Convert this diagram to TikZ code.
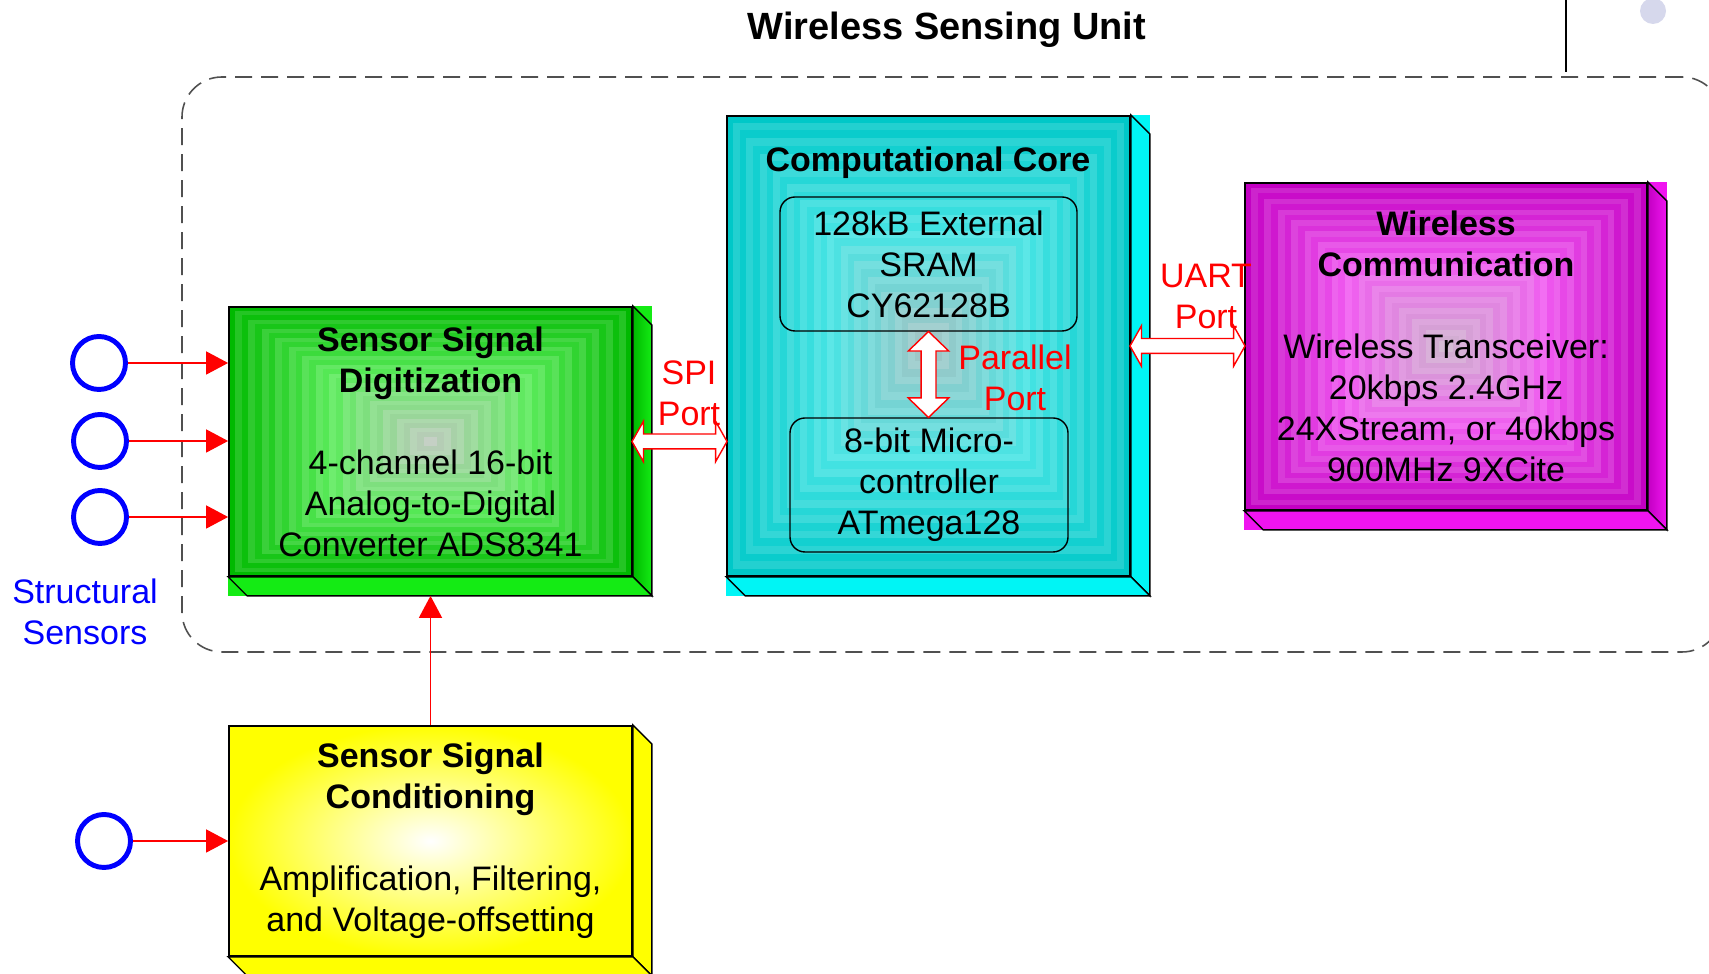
\documentclass[tikz,border=0pt]{standalone}
\usepackage{fontspec}
\setmainfont{Liberation Sans}
\usetikzlibrary{arrows.meta, shapes.arrows, positioning, calc, backgrounds}
\usepackage{xcolor}
\definecolor{greenedge}{RGB}{0,185,0}
\definecolor{greenmid}{RGB}{90,235,90}
\definecolor{greencenter}{RGB}{195,200,195}
\definecolor{greenside}{RGB}{20,235,20}
\definecolor{cyanedge}{RGB}{0,200,200}
\definecolor{cyanmid}{RGB}{70,228,228}
\definecolor{cyancenter}{RGB}{170,195,195}
\definecolor{cyanside}{RGB}{0,245,245}
\definecolor{magedge}{RGB}{195,0,195}
\definecolor{magmid}{RGB}{240,90,240}
\definecolor{magcenter}{RGB}{205,185,205}
\definecolor{magside}{RGB}{240,20,240}
\definecolor{sensorblue}{RGB}{0,0,255}
\definecolor{portred}{RGB}{255,0,0}
\definecolor{unitgray}{RGB}{80,80,80}
\definecolor{dotlavender}{RGB}{214,216,236}

\newcommand{\dpth}{0.19}
% stepped rectangular gradient on the face of a block (odd steps a bit lighter)
\newcommand{\bevelshade}[4]{%
  \foreach \k in {0,...,29}{%
    \pgfmathtruncatemacro\p{100-mod(\k,15)*100/15}%
    \ifnum\k<15 \colorlet{bevelcol}{#2!\p!#3}\else\colorlet{bevelcol}{#3!\p!#4}\fi
    \ifodd\k \colorlet{bevelcol}{bevelcol!88!white}\fi
    \pgfmathsetmacro\t{\k/30}%
    \fill[bevelcol] ($(#1.north west)!\t!(#1.center)$) rectangle ($(#1.south east)!\t!(#1.center)$);
  }}
% right and bottom faces of a block
\newcommand{\boxsides}[3]{%
  \draw[faceline, #2] (#1.north east) -- ++(\dpth,-\dpth) -- ($(#1.south east)+(\dpth,-\dpth)$) -- (#1.south east) -- cycle;
  \draw[faceline, #3] (#1.south west) -- ++(\dpth,-\dpth) -- ($(#1.south east)+(\dpth,-\dpth)$) -- (#1.south east) -- cycle;}

\begin{document}
\begin{tikzpicture}[
  blockbox/.style={draw, line width=0.5pt, inner sep=0pt, align=center, font=\fontsize{9.67}{11.66}\selectfont},
  innerbox/.style={draw, line width=0.4pt, rounded corners=0.15cm, inner sep=0pt, align=center, minimum height=1.34cm, font=\fontsize{9.67}{11.66}\selectfont},
  faceline/.style={draw=black, line width=0.4pt},
  sensor/.style={circle, draw=sensorblue, line width=1.4pt, minimum size=0.53cm, inner sep=0pt},
  portlabel/.style={text=portred, align=center, inner sep=0pt, font=\fontsize{9.67}{11.66}\selectfont},
  port/.style={double arrow, draw=portred, fill=white, line width=0.4pt, inner xsep=0pt, inner ysep=0.0675cm, minimum width=0pt, double arrow head extend=0.128cm, double arrow tip angle=121},
  sig/.style={-{Triangle[length=0.22cm, width=0.23cm]}, portred, line width=0.45pt},
  unitbox/.style={draw=unitgray, line width=0.45pt, dash pattern=on 0.17cm off 0.09cm, rounded corners=0.4cm},
]
\useasboundingbox (0,0) rectangle (17.09,-9.74);

% Title and the enclosing unit
\node[font=\fontsize{10.8}{13}\selectfont\bfseries] (title) at (9.47,-0.30) {Wireless Sensing Unit};
\node[unitbox, minimum width=15.40cm, minimum height=5.75cm] (unit) at (9.52,-3.645) {};
\draw[line width=0.6pt] (15.66,0) -- (15.66,-0.72);
\fill[dotlavender] (16.53,-0.11) circle (0.13);

% Blocks
\node[blockbox, minimum width=4.03cm, minimum height=2.69cm] (adc) at (4.305,-4.415)
  {\textbf{Sensor Signal}\\\textbf{Digitization}\\[11.66pt]4-channel 16-bit\\Analog-to-Digital\\Converter ADS8341};
\node[blockbox, minimum width=4.03cm, minimum height=4.60cm] (core) at (9.285,-3.46) {};
\node[font=\fontsize{9.67}{11.66}\selectfont\bfseries] (coretitle) at (9.28,-1.63) {Computational Core};
\node[innerbox, minimum width=2.97cm] (sram) at (9.285,-2.64) {128kB External\\SRAM\\CY62128B};
\node[innerbox, minimum width=2.78cm] (mcu) at (9.29,-4.85) {8-bit Micro-\\controller\\ATmega128};
\node[blockbox, minimum width=4.02cm, minimum height=3.27cm] (radio) at (14.46,-3.465)
  {\textbf{Wireless}\\\textbf{Communication}\\[11.66pt]Wireless Transceiver:\\20kbps 2.4GHz\\24XStream, or 40kbps\\900MHz 9XCite};
\node[blockbox, minimum width=4.03cm, minimum height=2.30cm] (cond) at (4.305,-8.41)
  {\textbf{Sensor Signal}\\\textbf{Conditioning}\\[11.66pt]Amplification, Filtering,\\and Voltage-offsetting};

% Block faces
\begin{scope}[on background layer]
  \fill[greenside] (adc.north west) rectangle ($(adc.south east)+(\dpth,-\dpth)$);
  \bevelshade{adc}{greenedge}{greenmid}{greencenter}
  \boxsides{adc}{left color=greenedge, middle color=white!55!greenmid, right color=greenside}{left color=greenside, middle color=white, right color=greenside}
  \fill[cyanside] (core.north west) rectangle ($(core.south east)+(\dpth,-\dpth)$);
  \bevelshade{core}{cyanedge}{cyanmid}{cyancenter}
  \boxsides{core}{left color=cyanside, middle color=white!70!cyanedge, right color=cyanside}{left color=cyanside, middle color=white!80!gray, right color=cyanside}
  \fill[magside] (radio.north west) rectangle ($(radio.south east)+(\dpth,-\dpth)$);
  \bevelshade{radio}{magedge}{magmid}{magcenter}
  \boxsides{radio}{left color=magedge, middle color=white!60!magmid, right color=magside}{left color=magside, middle color=white, right color=magside}
  \shade[inner color=white, outer color=yellow] (cond.north west) rectangle (cond.south east);
  \boxsides{cond}{left color=yellow, middle color=white!70!yellow, right color=yellow}{left color=yellow, middle color=white, right color=yellow}
\end{scope}

% Structural sensors
\node[sensor] (s1) at (0.99,-3.63) {};
\node[sensor] (s2) at (1.00,-4.41) {};
\node[sensor] (s3) at (1.00,-5.17) {};
\node[sensor] (s4) at (1.04,-8.41) {};
\node[text=sensorblue, align=center, inner sep=0pt, font=\fontsize{9.67}{11.66}\selectfont] (sensorlabel) at (0.85,-6.12) {Structural\\Sensors};

% Signal arrows
\foreach \s in {s1,s2,s3}{
  \draw[sig] (\s.east) -- (\s.east -| adc.west);
}
\draw[sig] (s4.east) -- (s4.east -| cond.west);
\coordinate (adcfoot) at ($(adc.south)+(0,-\dpth)$);
\draw[sig] (cond.north) -- (adcfoot);

% Ports
\node[port, minimum height=0.95cm] (spi) at ($(adc.east)!0.5!(adc.east -| core.west)$) {};
\node[port, minimum height=1.15cm] (uart) at ($(core.east)!0.5!(core.east -| radio.west)$) {};
\node[port, rotate=90, minimum height=0.86cm, double arrow tip angle=92] (par) at ($(sram.south)!0.5!(sram.south |- mcu.north)$) {};
\node[portlabel] (spilabel) at (6.89,-3.935) {SPI\\Port};
\node[portlabel] (uartlabel) at (12.06,-2.965) {UART\\Port};
\node[portlabel] (parlabel) at (10.15,-3.775) {Parallel\\Port};
\end{tikzpicture}
\end{document}
